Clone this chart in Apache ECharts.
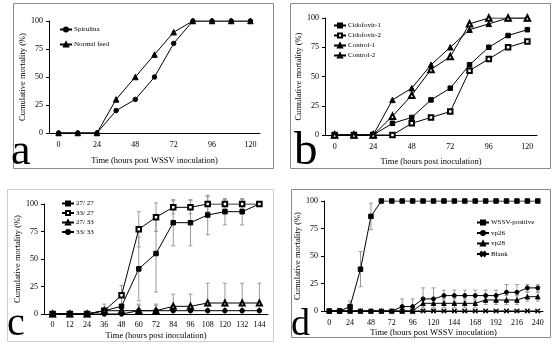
<!DOCTYPE html>
<html>
<head>
<meta charset="utf-8">
<script src="https://cdn.jsdelivr.net/npm/echarts@6/dist/echarts.min.js"></script>
<style>
  html, body { margin: 0; padding: 0; background: #fff; }
  #chart { width: 554px; height: 358px; }
</style>
</head>
<body>
<div id="chart"></div>
<script>
// panel a / b: hours 0..120
const hoursAB = ['0', '12', '24', '36', '48', '60', '72', '84', '96', '108', '120']
const spirulina = [0, 0, 0, 20, 30, 50, 80, 100, 100, 100, 100]
const normalFeed = [0, 0, 0, 30, 50, 70, 90, 100, 100, 100, 100]
const cidofovir1 = [0, 0, 0, 10, 15, 30, 40, 60, 75, 85, 90]
const cidofovir2 = [0, 0, 0, 0, 10, 15, 20, 55, 65, 75, 80]
const control1 = [0, 0, 0, 30, 40, 60, 75, 90, 95, 100, 100]
const control2 = [0, 0, 0, 16, 34, 56, 67, 95, 100, 100, 100]

// panel c: hours 0..144
const hoursC = ['0', '12', '24', '36', '48', '60', '72', '84', '96', '108', '120', '132', '144']
const t2727 = [0, 0, 0, 3, 7, 41, 55, 83, 83, 90, 93, 93, 100]
const t2727Err = [0, 0, 0, 0, 0, 29, 35, 21, 21, 18, 12, 12, 0]
const t3327 = [0, 0, 0, 3, 17, 77, 88, 97, 97, 100, 100, 100, 100]
const t3327Err = [0, 0, 0, 6, 9, 16, 13, 6, 6, 7, 4, 4, 0]
const t2733 = [0, 0, 0, 3, 3, 3, 3, 7, 7, 10, 10, 10, 10]
const t2733Err = [0, 0, 0, 0, 0, 6, 6, 11, 11, 18, 18, 18, 18]
const t3333 = [0, 0, 0, 0, 0, 3, 3, 3, 3, 3, 3, 3, 3]
const t3333Err = [0, 0, 0, 0, 0, 5, 5, 5, 5, 5, 5, 5, 5]

// panel d: hours 0..240
const hoursD = ['0', '12', '24', '36', '48', '60', '72', '84', '96', '108', '120', '132', '144',
    '156', '168', '180', '192', '204', '216', '228', '240']
const wssv = [0, 0, 4, 38, 86, 100, 100, 100, 100, 100, 100, 100, 100, 100, 100, 100, 100, 100, 100, 100, 100]
const wssvErr = [0, 0, 5, 16, 12, 0, 0, 0, 0, 0, 0, 0, 0, 0, 0, 0, 0, 0, 0, 0, 0]
const vp26 = [0, 0, 0, 0, 0, 0, 0, 4, 4, 11, 11, 14, 14, 14, 14, 14, 14, 17, 17, 21, 21]
const vp26Err = [0, 0, 0, 0, 0, 0, 0, 7, 7, 10, 10, 5, 5, 5, 5, 5, 5, 7, 7, 3, 3]
const vp28 = [0, 0, 0, 0, 0, 0, 0, 0, 0, 7, 7, 7, 7, 7, 7, 10, 10, 10, 10, 13, 13]
const vp28Err = [0, 0, 0, 0, 0, 0, 0, 0, 0, 4, 4, 4, 4, 4, 4, 4, 4, 4, 4, 4, 4]
const blank = [0, 0, 0, 0, 0, 0, 0, 0, 0, 0, 0, 0, 0, 0, 0, 0, 0, 0, 0, 0, 0]

const serif = 'Liberation Serif'
const crossPath = 'path://M0,1L1,0L5,4L9,0L10,1L6,5L10,9L9,10L5,6L1,10L0,9L4,5Z'

function xAx(gi, cats, labelInterval, name, nameGap, margin) {
    return {
        type: 'category', gridIndex: gi, data: cats, boundaryGap: true,
        name: name, nameLocation: 'middle', nameGap: nameGap,
        nameTextStyle: {fontFamily: serif, fontSize: 8.5, color: '#000'},
        axisLine: {lineStyle: {color: '#000', width: 1}},
        axisTick: {inside: true, length: 3, interval: 0, lineStyle: {color: '#000'}},
        axisLabel: {interval: labelInterval, fontFamily: serif, fontSize: 8, color: '#000', margin: margin},
        splitLine: {show: false}
    }
}

function yAx(gi, nameGap) {
    return {
        type: 'value', gridIndex: gi, min: 0, max: 100, interval: 25,
        name: 'Cumulative mortality (%)', nameLocation: 'middle', nameGap: nameGap,
        nameTextStyle: {fontFamily: serif, fontSize: 8.5, color: '#000'},
        axisLine: {show: true, lineStyle: {color: '#000', width: 1}},
        axisTick: {show: true, length: 3, lineStyle: {color: '#000'}},
        axisLabel: {fontFamily: serif, fontSize: 8, color: '#000', margin: 6},
        splitLine: {show: false}
    }
}

function line(name, gi, data, symbol, size) {
    return {
        type: 'line', name: name, xAxisIndex: gi, yAxisIndex: gi, data: data,
        symbol: symbol, symbolSize: size, showSymbol: true, showAllSymbol: true,
        lineStyle: {color: '#000', width: 1},
        itemStyle: {color: '#000', borderColor: '#000', borderWidth: 1},
        z: 3
    }
}

// vertical error bars drawn through the axes
function errBars(gi, vals, errs) {
    return {
        type: 'custom', xAxisIndex: gi, yAxisIndex: gi, silent: true, z: 1,
        data: vals.map((v, i) => [i, v, errs[i]]),
        renderItem(params, api) {
            const i = api.value(0), v = api.value(1), e = api.value(2)
            if (!e) return
            const top = api.coord([i, v + e])
            const lowVal = v - e
            const bot = api.coord([i, Math.max(0, lowVal)])
            const st = {stroke: '#9a9a9a', lineWidth: 1}
            const kids = [
                {type: 'line', shape: {x1: top[0], y1: top[1], x2: bot[0], y2: bot[1]}, style: st},
                {type: 'line', shape: {x1: top[0] - 2, y1: top[1], x2: top[0] + 2, y2: top[1]}, style: st}
            ]
            if (lowVal > 0) {
                kids.push({type: 'line', shape: {x1: bot[0] - 2, y1: bot[1], x2: bot[0] + 2, y2: bot[1]}, style: st})
            }
            return {type: 'group', children: kids}
        }
    }
}

function legend(names, left, top, gap) {
    return {
        data: names, orient: 'vertical', left: left, top: top,
        itemWidth: 12, itemHeight: 5, itemGap: gap, padding: 0,
        textStyle: {fontFamily: serif, fontSize: 7, color: '#000', padding: [0, 0, 0, -3]},
        selectedMode: false
    }
}

const chart = echarts.init(document.getElementById('chart'))
const option = {
    animation: false,
    backgroundColor: '#fff',
    grid: [
        {left: 49, top: 21, width: 211, height: 112},
        {left: 325, top: 18, width: 212, height: 117},
        {left: 44, top: 204, width: 224, height: 110},
        {left: 324, top: 201, width: 219, height: 110}
    ],
    xAxis: [
        xAx(0, hoursAB, 1, 'Time (hours post WSSV inoculation)', 23, 8),
        xAx(1, hoursAB, 1, 'Time (hours post inoculation)', 22, 8),
        xAx(2, hoursC, 0, 'Time (hours post inoculation)', 17, 7),
        xAx(3, hoursD, 1, 'Time (hours post WSSV inoculation)', 17.5, 8)
    ],
    yAxis: [yAx(0, 20), yAx(1, 22), yAx(2, 22), yAx(3, 22)],
    legend: [
        legend(['Spirulina', 'Normal feed'], 59, 26, 8),
        legend(['Cidofovir-1', 'Cidofovir-2', 'Control-1', 'Control-2'], 333, 22, 3),
        legend(['27/ 27', '33/ 27', '27/ 33', '33/ 33'], 61, 200, 2.5),
        legend(['WSSV-positive', 'vp26', 'vp28', 'Blank'], 476, 219, 3.5)
    ],
    series: [
        line('Spirulina', 0, spirulina, 'circle', 4.5),
        line('Normal feed', 0, normalFeed, 'triangle', 5.5),

        line('Cidofovir-1', 1, cidofovir1, 'rect', 4.5),
        line('Cidofovir-2', 1, cidofovir2, 'emptyRect', 4.5),
        line('Control-1', 1, control1, 'triangle', 5.5),
        line('Control-2', 1, control2, 'emptyTriangle', 5.5),

        errBars(2, t2727, t2727Err),
        errBars(2, t3327, t3327Err),
        errBars(2, t2733, t2733Err),
        errBars(2, t3333, t3333Err),
        line('27/ 27', 2, t2727, 'rect', 4.5),
        line('33/ 27', 2, t3327, 'emptyRect', 4.5),
        line('27/ 33', 2, t2733, 'emptyTriangle', 5),
        line('33/ 33', 2, t3333, 'circle', 4.5),

        errBars(3, wssv, wssvErr),
        errBars(3, vp26, vp26Err),
        errBars(3, vp28, vp28Err),
        line('Blank', 3, blank, crossPath, 4.5),
        line('vp28', 3, vp28, 'triangle', 4.5),
        line('vp26', 3, vp26, 'circle', 4),
        line('WSSV-positive', 3, wssv, 'rect', 4.5)
    ],
    graphic: [
        {type: 'rect', shape: {x: 13.5, y: 3.5, width: 260, height: 165}, style: {fill: null, stroke: '#8a8a8a', lineWidth: 1}, z: 0},
        {type: 'rect', shape: {x: 290.5, y: 3.5, width: 260, height: 165}, style: {fill: null, stroke: '#8a8a8a', lineWidth: 1}, z: 0},
        {type: 'rect', shape: {x: 7.5, y: 189.5, width: 266, height: 152}, style: {fill: null, stroke: '#cfcfcf', lineWidth: 1}, z: 0},
        {type: 'rect', shape: {x: 291.5, y: 189.5, width: 259, height: 148}, style: {fill: null, stroke: '#8a8a8a', lineWidth: 1}, z: 0},
        {type: 'text', x: 11, y: 174, style: {text: 'a', font: '44px "Liberation Serif"', fill: '#000', verticalAlign: 'bottom'}},
        {type: 'text', x: 294, y: 175, style: {text: 'b', font: '47px "Liberation Serif"', fill: '#000', verticalAlign: 'bottom'}},
        {type: 'text', x: 7, y: 344, style: {text: 'c', font: '40px "Liberation Serif"', fill: '#000', verticalAlign: 'bottom'}},
        {type: 'text', x: 291, y: 344, style: {text: 'd', font: '38px "Liberation Serif"', fill: '#000', verticalAlign: 'bottom'}}
    ]
}
chart.setOption(option)
window.addEventListener('resize', function() {
    chart.resize()
})
</script>
</body>
</html>
